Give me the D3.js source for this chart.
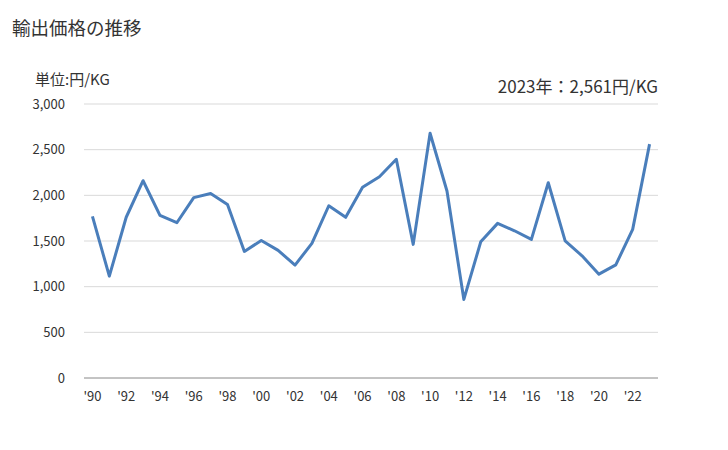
<!DOCTYPE html>
<html>
<head>
<meta charset="utf-8">
<script src="https://cdn.jsdelivr.net/npm/d3@7"></script>
<style>
  body { margin: 0; background: #fff; }
  text { font-family: "Noto Sans CJK JP", "Noto Sans", sans-serif; }
</style>
</head>
<body>
<script>
var years = d3.range(1990, 2024);
var prices = [1770, 1115, 1760, 2160, 1780, 1700, 1975, 2020, 1900, 1386,
  1506, 1397, 1236, 1474, 1886, 1759, 2088, 2204, 2395, 1463,
  2680, 2047, 860, 1491, 1693, 1612, 1517, 2138, 1502, 1338,
  1137, 1239, 1627, 2561];
var yTicks = [0, 500, 1000, 1500, 2000, 2500, 3000];
var xTickYears = d3.range(1990, 2024, 2);

var data = years.map(function(y, i){ return {year: y, value: prices[i]}; });

var svg = d3.select('body').append('svg').attr('width', 728).attr('height', 450);

var plotLeft = 84, plotRight = 658, plotTop = 104, plotBottom = 378;

var x = d3.scaleBand().domain(years).range([plotLeft, plotRight]);
var y = d3.scaleLinear().domain([0, 3000]).range([plotBottom, plotTop]);

svg.append('text').attr('x', 12).attr('y', 35).text('輸出価格の推移')
  .style('font-size', '18.5px').style('fill', '#333');

svg.append('text').attr('x', 35).attr('y', 85).text('単位:円/KG')
  .style('font-size', '15px').style('fill', '#333');

svg.append('text').attr('x', 658).attr('y', 93).attr('text-anchor', 'end')
  .text('2023年：2,561円/KG')
  .style('font-size', '17px').style('fill', '#333');

// gridlines
svg.append('g').selectAll('line').data(yTicks.filter(function(d){ return d > 0; })).enter()
  .append('line')
  .attr('x1', plotLeft).attr('x2', plotRight)
  .attr('y1', function(d){ return y(d); }).attr('y2', function(d){ return y(d); })
  .style('stroke', '#d9d9d9').style('stroke-width', 1);

var yAxis = svg.append('g').attr('transform', 'translate(' + (plotLeft - 16) + ',0)')
  .call(d3.axisLeft(y).tickValues(yTicks).tickSize(0).tickFormat(d3.format(',')));
yAxis.select('.domain').remove();
yAxis.selectAll('text').style('font-size', '13px').style('fill', '#333');

svg.append('line').attr('x1', plotLeft).attr('x2', plotRight)
  .attr('y1', plotBottom).attr('y2', plotBottom)
  .style('stroke', '#888').style('stroke-width', 1);

var xAxis = svg.append('g').attr('transform', 'translate(0,' + plotBottom + ')')
  .call(d3.axisBottom(x).tickValues(xTickYears).tickSize(0).tickPadding(14)
    .tickFormat(function(d){ return "'" + String(d).slice(2); }));
xAxis.select('.domain').remove();
xAxis.selectAll('text').style('font-size', '13px').style('fill', '#333');

var line = d3.line()
  .x(function(d){ return x(d.year) + x.bandwidth() / 2; })
  .y(function(d){ return y(d.value); });

svg.append('path').datum(data).attr('d', line)
  .style('fill', 'none').style('stroke', '#4a7ebb').style('stroke-width', 3)
  .style('stroke-linejoin', 'round');
</script>
</body>
</html>
